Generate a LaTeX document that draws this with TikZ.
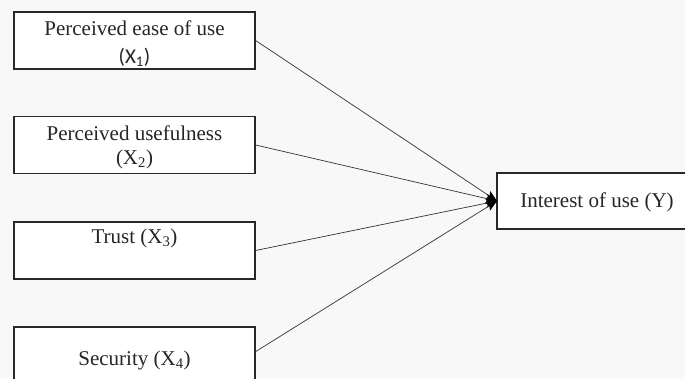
\documentclass[tikz,border=0pt]{standalone}
\usepackage{fontspec}
\setmainfont{Liberation Serif}
\newfontfamily\xsans{Carlito}
\usetikzlibrary{arrows.meta}
\definecolor{bgc}{RGB}{248,248,248}
\definecolor{linec}{RGB}{40,40,40}
\begin{document}
\begin{tikzpicture}[x=1pt,y=-1pt,
  box/.style={draw=linec,line width=1.2pt,fill=white,minimum width=241pt,inner sep=0pt},
  lbl/.style={font=\fontsize{21}{24}\selectfont,inner sep=0pt,text=black!85},
  conn/.style={draw=black!80,line width=0.7pt,-{Stealth[length=11pt,width=9pt,inset=2pt,fill=black,color=black]}}]
\fill[bgc] (0,0) rectangle (685,379);
\useasboundingbox (0,0) rectangle (685,379);
\begin{scope}
\clip (0,0) rectangle (685,379);
\node[box,minimum height=57pt] (b1) at (134.5,40.5) {};
\node[box,minimum height=57pt] (b2) at (134.5,145) {};
\node[box,minimum height=57pt] (b3) at (134.5,250.5) {};
\node[box,minimum height=58pt] (b4) at (134.5,356) {};
\node[draw=linec,line width=1.2pt,fill=white,minimum width=200pt,minimum height=56pt,inner sep=0pt] (y) at (597,201) {};
\end{scope}
\node[lbl] (t1a) at (134.5,28) {Perceived ease of use};
\node[lbl] (t1b) at (134.5,57) {\xsans (X\textsubscript{1})};
\node[lbl] (t2a) at (134.5,133) {Perceived usefulness};
\node[lbl] (t2b) at (134.5,159) {(X\textsubscript{2})};
\node[lbl] (t3) at (134.5,238) {Trust (X\textsubscript{3})};
\node[lbl] (t4) at (134.5,360) {Security (X\textsubscript{4})};
\node[lbl] (ty) at (597,202) {Interest of use (Y)};
\coordinate (tip) at (497,201);
\coordinate (e4) at (255,352);
\draw[conn] (b1.east) -- (tip);
\draw[conn] (b2.east) -- (tip);
\draw[conn] (b3.east) -- (tip);
\draw[conn] (e4) -- (tip);
\end{tikzpicture}
\end{document}
